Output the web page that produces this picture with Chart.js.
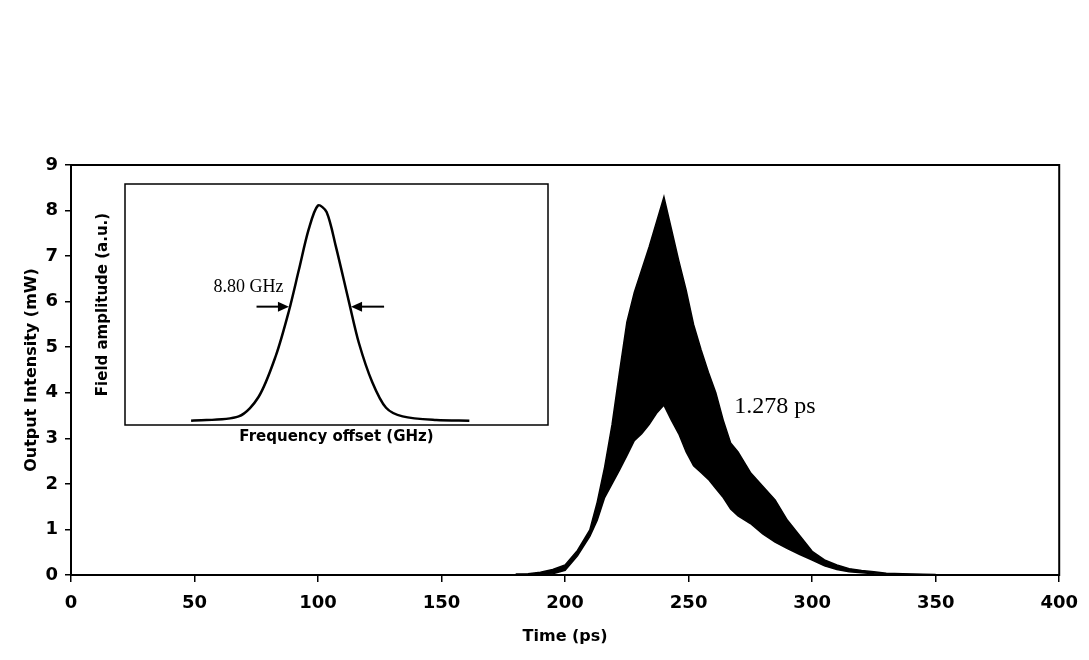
<!DOCTYPE html>
<html lang="en">
<head>
<meta charset="UTF-8">
<title>Output intensity pulse</title>
<script src="https://cdn.jsdelivr.net/npm/chart.js@4.4.1/dist/chart.umd.min.js"></script>
<style>
  body { margin: 0; background: #fff; }
  .wrap { position: relative; width: 1089px; height: 660px; }
  .wrap canvas { position: absolute; left: 0; top: 0; }
</style>
</head>
<body>
<div class="wrap">
  <canvas id="mainChart" width="1089" height="660"></canvas>
  <canvas id="insetChart" width="1089" height="660"></canvas>
</div>
<script>
// main pulse: upper and lower edge of the oscillating trace
const timePs  = [180, 185, 190, 195, 200, 205, 210, 213, 216, 219, 222, 225, 228, 231, 234, 237, 240,
                 243, 246, 249, 252, 255, 258, 261, 264, 267, 270, 275, 280, 285, 290, 295, 300,
                 305, 310, 315, 320, 325, 330, 340, 350];
const upperMw = [0.02, 0.03, 0.06, 0.12, 0.22, 0.54, 0.99, 1.6, 2.37, 3.3, 4.45, 5.55, 6.2, 6.7, 7.2, 7.75, 8.3,
                 7.6, 6.9, 6.25, 5.5, 4.95, 4.45, 4.0, 3.4, 2.9, 2.7, 2.25, 1.95, 1.65, 1.2, 0.86, 0.52,
                 0.33, 0.22, 0.14, 0.10, 0.07, 0.04, 0.02, 0.01];
const lowerMw = [0.0, 0.0, 0.01, 0.03, 0.1, 0.42, 0.85, 1.2, 1.7, 2.0, 2.3, 2.62, 2.95, 3.1, 3.3, 3.55, 3.73,
                 3.4, 3.1, 2.7, 2.4, 2.25, 2.1, 1.9, 1.7, 1.45, 1.3, 1.13, 0.9, 0.72, 0.58, 0.45, 0.33,
                 0.2, 0.12, 0.07, 0.05, 0.03, 0.02, 0.01, 0.0];

// inset spectrum
const freqGHz  = [-19, -11.8, -8.8, -6.2, -4.2, -2.7, -1.2, 0.2, 1.5, 2.9, 4.9, 6.4, 8.4, 10.5, 13.0, 18.1, 23.1];
const fieldAmp = [0.0, 0.02, 0.11, 0.30, 0.51, 0.70, 0.89, 1.0, 0.97, 0.81, 0.55, 0.36, 0.18, 0.06, 0.02, 0.003, 0.0];

const xTickStep = 50, yTickStep = 1;
const fwhmLabel = '8.80 GHz';
const fwhmEdges = [-4.2, 5.2];   // GHz, where the arrows point
const pulseLabel = '1.278 ps';

const boldFont = (s) => ({ family: 'DejaVu Sans', weight: 'bold', size: s });

// box around the plot area
const frame = (w) => ({
  id: 'frame' + w,
  afterDraw(chart) {
    const a = chart.chartArea, c = chart.ctx;
    c.save();
    c.strokeStyle = '#000';
    c.lineWidth = w;
    c.strokeRect(a.left, a.top, a.right - a.left, a.bottom - a.top);
    c.restore();
  }
});

const pulseNote = {
  id: 'pulseNote',
  afterDraw(chart) {
    const c = chart.ctx, sx = chart.scales.x, sy = chart.scales.y;
    c.save();
    c.fillStyle = '#000';
    c.font = '24px "Liberation Serif"';
    c.textBaseline = 'middle';
    c.fillText(pulseLabel, sx.getPixelForValue(268.5), sy.getPixelForValue(3.7));
    c.restore();
  }
};

const fwhmNote = {
  id: 'fwhmNote',
  afterDraw(chart) {
    const c = chart.ctx, sx = chart.scales.x, sy = chart.scales.y;
    const yy = sy.getPixelForValue(0.53);
    c.save();
    c.fillStyle = '#000';
    c.strokeStyle = '#000';
    c.lineWidth = 2;
    c.font = '18px "Liberation Serif"';
    c.textAlign = 'center';
    c.textBaseline = 'middle';
    c.fillText(fwhmLabel, sx.getPixelForValue(-10.3), sy.getPixelForValue(0.62));
    // arrows pointing at the half-maximum edges
    const arrow = (from, to) => {
      const x0 = sx.getPixelForValue(from), x1 = sx.getPixelForValue(to);
      const d = Math.sign(x1 - x0);
      c.beginPath(); c.moveTo(x0, yy); c.lineTo(x1 - d * 8, yy); c.stroke();
      c.beginPath(); c.moveTo(x1, yy); c.lineTo(x1 - d * 11, yy - 5); c.lineTo(x1 - d * 11, yy + 5); c.closePath(); c.fill();
    };
    arrow(fwhmEdges[0] - 4.9, fwhmEdges[0]);
    arrow(fwhmEdges[1] + 5.0, fwhmEdges[1]);
    c.restore();
  }
};

new Chart(document.getElementById('mainChart').getContext('2d'), {
  type: 'line',
  data: {
    datasets: [{
      data: timePs.map((t, i) => ({ x: t, y: upperMw[i] })),
      borderColor: '#000',
      borderWidth: 1.5,
      pointRadius: 0,
      fill: false
    }, {
      data: timePs.map((t, i) => ({ x: t, y: lowerMw[i] })),
      borderColor: '#000',
      borderWidth: 1.5,
      backgroundColor: '#000',
      pointRadius: 0,
      fill: '-1'
    }]
  },
  options: {
    responsive: false,
    animation: false,
    layout: { padding: { left: 0, top: 165, right: 26, bottom: 0 } },
    plugins: { legend: { display: false }, tooltip: { enabled: false } },
    scales: {
      x: {
        type: 'linear', min: 0, max: 400,
        afterFit: (s) => { s.height = 85; },
        ticks: { stepSize: xTickStep, color: '#000', font: boldFont(18), padding: 11, maxRotation: 0 },
        grid: { drawOnChartArea: false, color: '#000', tickLength: 7, lineWidth: 1.5 },
        border: { color: '#000', width: 2 },
        title: { display: true, text: 'Time (ps)', color: '#000', font: boldFont(16), padding: { top: 0, bottom: 14 } }
      },
      y: {
        min: 0, max: 9,
        afterFit: (s) => { s.width = 71; },
        ticks: { stepSize: yTickStep, color: '#000', font: boldFont(18), padding: 7 },
        grid: { drawOnChartArea: false, color: '#000', tickLength: 6, lineWidth: 1.5 },
        border: { color: '#000', width: 2 },
        title: { display: true, text: 'Output Intensity (mW)', color: '#000', font: boldFont(16), padding: { top: 22, bottom: 0 } }
      }
    }
  },
  plugins: [frame(2), pulseNote]
});

new Chart(document.getElementById('insetChart').getContext('2d'), {
  type: 'line',
  data: {
    datasets: [{
      data: freqGHz.map((f, i) => ({ x: f, y: fieldAmp[i] })),
      borderColor: '#000',
      borderWidth: 2.5,
      pointRadius: 0,
      tension: 0.3,
      fill: false
    }]
  },
  options: {
    responsive: false,
    animation: false,
    layout: { padding: { left: 85, top: 184, right: 541, bottom: 210 } },
    plugins: { legend: { display: false }, tooltip: { enabled: false } },
    scales: {
      x: {
        type: 'linear', min: -29, max: 35,
        afterFit: (s) => { s.height = 25; },
        ticks: { display: false },
        grid: { display: false },
        border: { display: false },
        title: { display: true, text: 'Frequency offset (GHz)', color: '#000', font: boldFont(15), padding: { top: 0, bottom: 4 } }
      },
      y: {
        min: -0.02, max: 1.1,
        afterFit: (s) => { s.width = 40; },
        ticks: { display: false },
        grid: { display: false },
        border: { display: false },
        title: { display: true, text: 'Field amplitude (a.u.)', color: '#000', font: boldFont(15), padding: { top: 9, bottom: 0 } }
      }
    }
  },
  plugins: [frame(1.5), fwhmNote]
});
</script>
</body>
</html>
